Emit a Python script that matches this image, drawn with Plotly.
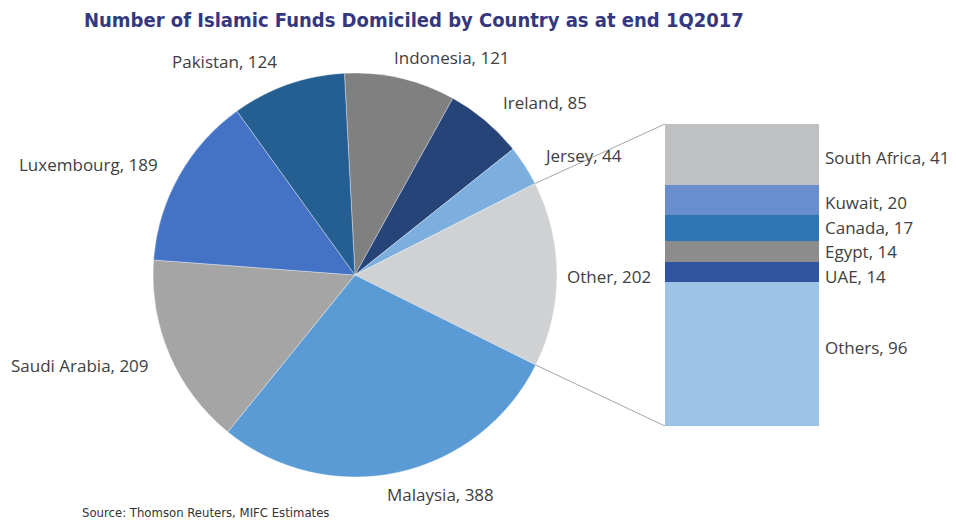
import math
import plotly.graph_objects as go

# ---- data -------------------------------------------------------------
countries = ["Indonesia", "Ireland", "Jersey", "Other", "Malaysia",
             "Saudi Arabia", "Luxembourg", "Pakistan"]
fund_counts = [121, 85, 44, 202, 388, 209, 189, 124]

other_names = ["Others", "UAE", "Egypt", "Canada", "Kuwait", "South Africa"]
other_counts = [96, 14, 14, 17, 20, 41]

title_text = "Number of Islamic Funds Domiciled by Country as at end 1Q2017"
source_text = "Source: Thomson Reuters, MIFC Estimates"

# ---- styling / layout -------------------------------------------------
W, H = 956, 521
pie_colors = ["#808080", "#264478", "#7cafdd", "#cfd1d3", "#5b9bd5",
              "#a5a5a5", "#4472c4", "#255e91"]
bar_colors = ["#9dc3e6", "#2f55a0", "#8c8c8c", "#2e75b6", "#698ed0", "#bfc0c2"]
text_color = "#404040"
label_font = dict(family="Open Sans, Lato, sans-serif", size=17, color=text_color)

pie_cx, pie_cy, pie_r = 355, 275, 202      # pixels from top-left
pie_rotation = -3
bar_left, bar_right, bar_top, bar_bottom = 665, 819, 124, 426

# pie label anchors (pixel centres)
pie_label_pos = {
    "Indonesia": (452, 58), "Ireland": (545, 103), "Jersey": (583, 155),
    "Other": (609, 276), "Malaysia": (440, 494), "Saudi Arabia": (80, 365),
    "Luxembourg": (88, 164), "Pakistan": (224, 62),
}
bar_label_x = 823
# vertical nudge of each bar label, pixels downward from the segment middle
bar_label_shift = {"Others": -7, "UAE": 4, "Egypt": 0, "Canada": 0,
                   "Kuwait": 2, "South Africa": 3}


def px(x):
    return x / W


def py(y):
    return 1 - y / H


fig = go.Figure()

fig.add_trace(go.Pie(
    labels=countries, values=fund_counts, sort=False, direction="clockwise",
    rotation=pie_rotation, textinfo="none", hoverinfo="label+value",
    marker=dict(colors=pie_colors, line=dict(color="rgba(255,255,255,0.6)", width=0.6)),
    domain=dict(x=[px(pie_cx - pie_r), px(pie_cx + pie_r)],
                y=[py(pie_cy + pie_r), py(pie_cy - pie_r)]),
    showlegend=False,
))

for name, val, col in zip(other_names, other_counts, bar_colors):
    fig.add_trace(go.Bar(
        x=[0], y=[val], name=name, marker=dict(color=col, line=dict(width=0)),
        showlegend=False, hoverinfo="name+y",
    ))

total_other = sum(other_counts)
fig.update_layout(
    width=W, height=H, margin=dict(l=0, r=0, t=0, b=0),
    paper_bgcolor="white", plot_bgcolor="white",
    barmode="stack", bargap=0,
    xaxis=dict(domain=[px(bar_left), px(bar_right)], range=[-0.5, 0.5],
               visible=False, fixedrange=True),
    yaxis=dict(domain=[py(bar_bottom), py(bar_top)], range=[0, total_other],
               visible=False, fixedrange=True),
)

# connector lines from the "Other" slice edges to the stacked bar corners
total = sum(fund_counts)
idx_other = countries.index("Other")
start = sum(fund_counts[:idx_other])
end = start + fund_counts[idx_other]
for frac, corner_y in ((start / total, bar_top), (end / total, bar_bottom)):
    ang = math.radians(pie_rotation + frac * 360)
    x0 = pie_cx + pie_r * math.sin(ang)
    y0 = pie_cy - pie_r * math.cos(ang)
    fig.add_shape(type="line", xref="paper", yref="paper",
                  x0=px(x0), y0=py(y0), x1=px(bar_left), y1=py(corner_y),
                  line=dict(color="#a6a6a6", width=1))

annotations = []
for name, val in zip(countries, fund_counts):
    x, y = pie_label_pos[name]
    annotations.append(dict(text=f"{name}, {val}", x=px(x), y=py(y),
                            xref="paper", yref="paper", showarrow=False,
                            xanchor="center", yanchor="middle", font=label_font))

cum = 0
for name, val in zip(other_names, other_counts):
    mid = cum + val / 2
    cum += val
    annotations.append(dict(text=f"{name}, {val}", x=px(bar_label_x), y=mid,
                            xref="paper", yref="y", showarrow=False,
                            xanchor="left", yanchor="middle",
                            yshift=-bar_label_shift[name], font=label_font))

annotations.append(dict(text=f"<b>{title_text}</b>", x=px(82), y=py(20),
                        xref="paper", yref="paper", showarrow=False,
                        xanchor="left", yanchor="middle",
                        font=dict(family="Liberation Sans Narrow, DejaVu Sans Condensed, Arial, sans-serif",
                                  size=20, color="#35387f")))
annotations.append(dict(text=source_text, x=px(80), y=py(512),
                        xref="paper", yref="paper", showarrow=False,
                        xanchor="left", yanchor="middle",
                        font=dict(family="Liberation Sans Narrow, DejaVu Sans Condensed, sans-serif",
                                  size=13, color="#333333")))
fig.update_layout(annotations=annotations)

fig.write_html("out.html")
